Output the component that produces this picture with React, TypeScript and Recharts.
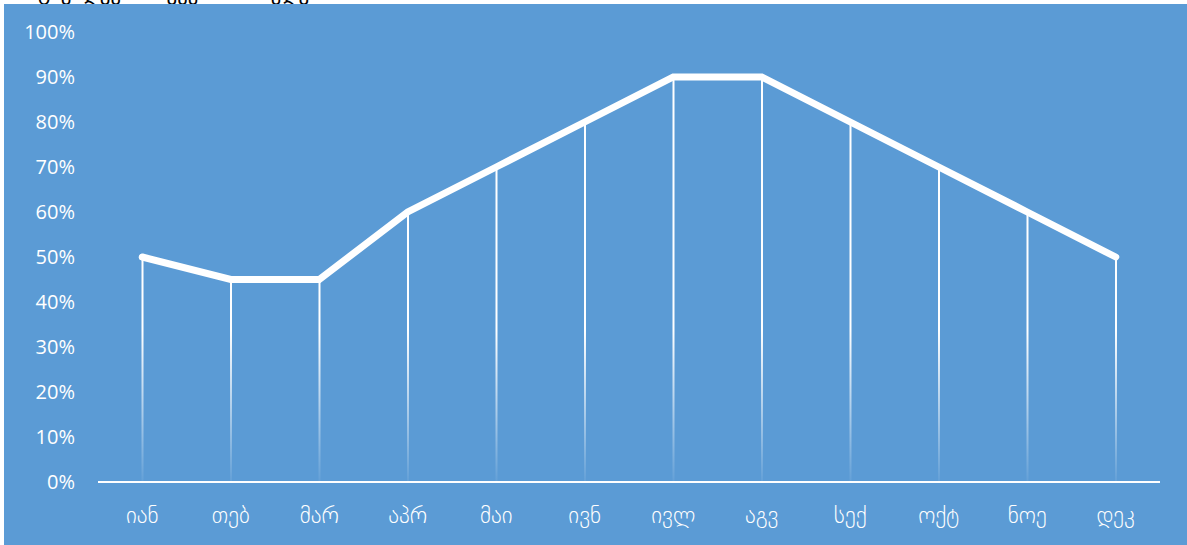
import React from 'react';
import { ComposedChart, Line, Bar, XAxis, YAxis } from 'recharts';

// თვეები და მნიშვნელობები (%)
const months = ['იან', 'თებ', 'მარ', 'აპრ', 'მაი', 'ივნ', 'ივლ', 'აგვ', 'სექ', 'ოქტ', 'ნოე', 'დეკ'];
const values = [50, 45, 45, 60, 70, 80, 90, 90, 80, 70, 60, 50];
const yTicks = [0, 10, 20, 30, 40, 50, 60, 70, 80, 90, 100];

const data = months.map((m, i) => ({ name: m, value: values[i] }));

const BG = '#5b9bd5';

// thin vertical drop line from the point down to the axis
const DropLine = (props: any) => {
  const { x, y, width, height } = props;
  if (height == null || height <= 0) return null;
  return <rect x={x + width / 2 - 1} y={y} width={2} height={height} fill="url(#dropFade)" />;
};

const App: React.FC = () => {
  return (
    <div style={{ position: 'fixed', left: 0, top: 0, width: 1187, height: 545, overflow: 'hidden', background: '#fff' }}>
      <div
        style={{
          position: 'absolute',
          left: 38,
          top: -19,
          fontFamily: '"DejaVu Sans", sans-serif',
          fontSize: 21,
          color: '#000',
          whiteSpace: 'nowrap',
        }}
      >
        გაყიდვები თვეების მიხედვით
      </div>
      <div style={{ position: 'absolute', left: 4, top: 4, width: 1183, height: 541, background: BG }} />
      <div style={{ position: 'absolute', left: 0, top: 0 }}>
        <ComposedChart
          width={1187}
          height={545}
          data={data}
          margin={{ top: 32, right: 27, left: 0, bottom: 33 }}
          barCategoryGap={0}
        >
          <defs>
            <linearGradient id="dropFade" x1="0" y1="330" x2="0" y2="482" gradientUnits="userSpaceOnUse">
              <stop offset="0" stopColor="#ffffff" stopOpacity={1} />
              <stop offset="1" stopColor="#ffffff" stopOpacity={0.05} />
            </linearGradient>
          </defs>
          <XAxis
            dataKey="name"
            height={30}
            axisLine={{ stroke: '#ffffff', strokeWidth: 2 }}
            tickLine={false}
            tickSize={6}
            tickMargin={19}
            interval={0}
            tick={{ fill: '#ffffff', fontSize: 23, fontWeight: 200, fontFamily: '"DejaVu Sans ExtraLight", "DejaVu Sans", sans-serif' }}
          />
          <YAxis
            width={98}
            domain={[0, 100]}
            ticks={yTicks}
            interval={0}
            axisLine={false}
            tickLine={false}
            tickSize={6}
            tickMargin={17}
            tickFormatter={(v) => `${v}%`}
            tick={{ fill: '#ffffff', fontSize: 20, fontFamily: '"Open Sans", sans-serif' }}
          />
          <Bar dataKey="value" shape={DropLine} isAnimationActive={false} />
          <Line
            type="linear"
            dataKey="value"
            stroke="#ffffff"
            strokeWidth={7}
            strokeLinecap="round"
            strokeLinejoin="miter"
            dot={false}
            activeDot={false}
            isAnimationActive={false}
          />
        </ComposedChart>
      </div>
    </div>
  );
};

export default App;
